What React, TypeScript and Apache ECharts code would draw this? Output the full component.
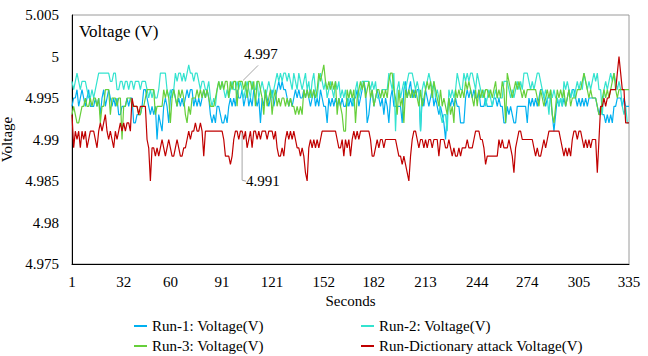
import React, { useEffect, useRef } from "react";
import * as echarts from "echarts";

// Values in millivolts (4994 = 4.994 V), one per second 1..335
const RUN1_MV = [
  4994,4995,4995,4996,4994,4995,4996,4995,4994,4995,
  4996,4994,4994,4994,4995,4994,4995,4993,4995,4996,
  4994,4995,4996,4995,4994,4995,4994,4995,4993,4993,
  4994,4994,4994,4995,4994,4995,4995,4992,4992,4993,
  4993,4993,4994,4996,4996,4995,4994,4993,4994,4993,
  4994,4990,4993,4992,4991,4994,4995,4994,4992,4995,
  4996,4996,4995,4994,4995,4994,4995,4994,4995,4996,
  4995,4996,4996,4994,4995,4994,4995,4994,4995,4996,
  4995,4996,4995,4993,4992,4993,4992,4994,4994,4993,
  4992,4992,4993,4992,4994,4995,4994,4995,4994,4996,
  4995,4995,4996,4994,4995,4996,4994,4995,4994,4996,
  4995,4994,4995,4992,4995,4994,4996,4995,4994,4995,
  4996,4994,4995,4996,4997,4996,4997,4996,4996,4995,
  4994,4995,4994,4995,4996,4995,4996,4995,4995,4996,
  4995,4996,4995,4994,4995,4996,4994,4995,4994,4996,
  4995,4994,4994,4992,4995,4994,4995,4994,4995,4994,
  4995,4994,4995,4994,4994,4995,4994,4995,4994,4995,
  4995,4996,4994,4995,4996,4997,4996,4992,4993,4995,
  4996,4994,4995,4996,4995,4994,4995,4993,4995,4994,
  4992,4995,4996,4994,4994,4994,4994,4994,4992,4996,
  4997,4995,4996,4997,4995,4996,4995,4996,4996,4991,
  4995,4994,4996,4995,4994,4995,4996,4994,4995,4994,
  4993,4994,4993,4992,4990,4993,4995,4994,4995,4994,
  4995,4994,4994,4992,4992,4992,4995,4996,4995,4996,
  4995,4996,4995,4995,4996,4994,4994,4994,4995,4994,
  4994,4994,4994,4995,4995,4994,4995,4994,4994,4992,
  4992,4994,4993,4994,4993,4992,4992,4994,4994,4994,
  4994,4994,4994,4992,4995,4994,4995,4994,4995,4994,
  4995,4996,4996,4995,4994,4995,4995,4995,4993,4991,
  4993,4995,4994,4995,4994,4995,4994,4995,4996,4995,
  4996,4996,4995,4994,4995,4994,4995,4994,4995,4994,
  4995,4995,4995,4995,4995,4994,4993,4994,4993,4993,
  4992,4993,4992,4993,4992,4994,4994,4995,4995,4995,
  4994,4995,4994,4994,4994,
];

const RUN2_MV = [
  4997,4996,4997,4998,4997,4996,4997,4997,4997,4996,
  4995,4995,4996,4995,4996,4997,4998,4998,4998,4998,
  4998,4998,4998,4997,4997,4998,4998,4996,4996,4997,
  4997,4996,4997,4997,4996,4997,4997,4996,4997,4997,
  4997,4996,4997,4997,4997,4996,4995,4996,4995,4996,
  4995,4995,4996,4998,4998,4998,4998,4996,4995,4996,
  4995,4996,4998,4997,4998,4998,4997,4998,4997,4998,
  4999,4998,4998,4997,4998,4998,4997,4996,4997,4997,
  4996,4996,4997,4995,4994,4995,4994,4996,4997,4996,
  4997,4996,4995,4996,4995,4996,4997,4996,4996,4997,
  4996,4997,4996,4995,4996,4997,4996,4995,4997,4996,
  4996,4997,4995,4996,4997,4996,4995,4996,4997,4996,
  4995,4996,4997,4998,4997,4998,4997,4998,4998,4997,
  4998,4997,4996,4998,4997,4996,4998,4997,4996,4997,
  4998,4996,4997,4995,4997,4998,4996,4995,4997,4998,
  4997,4996,4997,4995,4996,4997,4996,4995,4997,4996,
  4997,4995,4996,4995,4996,4994,4995,4996,4995,4994,
  4996,4997,4995,4996,4997,4997,4997,4997,4997,4996,
  4997,4996,4997,4995,4995,4995,4996,4996,4996,4996,
  4998,4997,4996,4998,4991,4996,4997,4995,4996,4997,
  4996,4997,4998,4998,4998,4997,4996,4997,4996,4991,
  4996,4997,4996,4997,4998,4997,4996,4997,4995,4996,
  4995,4993,4992,4993,4993,4991,4996,4995,4996,4995,
  4996,4998,4997,4996,4996,4998,4997,4998,4997,4998,
  4998,4997,4996,4998,4997,4996,4995,4996,4994,4995,
  4996,4995,4994,4995,4996,4995,4995,4995,4995,4997,
  4997,4997,4996,4995,4996,4995,4996,4997,4996,4997,
  4996,4998,4998,4998,4997,4996,4997,4996,4997,4998,
  4998,4997,4996,4995,4996,4995,4993,4996,4995,4996,
  4995,4995,4994,4995,4994,4997,4996,4997,4996,4995,
  4996,4995,4996,4997,4996,4997,4996,4998,4997,4996,
  4997,4996,4997,4998,4997,4998,4996,4996,4993,4996,
  4997,4996,4997,4998,4997,4998,4997,4996,4997,4996,
  4994,4993,4994,4992,4992,
];

const RUN3_MV = [
  4993,4994,4993,4992,4992,4993,4994,4994,4995,4994,
  4994,4995,4994,4995,4995,4994,4995,4992,4994,4994,
  4996,4996,4996,4993,4995,4995,4995,4994,4995,4995,
  4990,4994,4994,4995,4995,4995,4994,4994,4994,4994,
  4993,4993,4994,4994,4995,4996,4996,4996,4996,4996,
  4993,4994,4994,4994,4994,4996,4995,4996,4995,4992,
  4995,4996,4995,4994,4996,4995,4996,4995,4993,4992,
  4994,4993,4995,4995,4995,4996,4995,4996,4995,4996,
  4995,4996,4995,4994,4994,4994,4995,4996,4997,4996,
  4997,4996,4997,4997,4995,4997,4996,4997,4997,4994,
  4997,4997,4997,4996,4997,4995,4997,4997,4996,4997,
  4994,4997,4997,4996,4995,4993,4996,4994,4995,4996,
  4993,4995,4996,4994,4995,4994,4995,4995,4994,4995,
  4994,4995,4994,4994,4993,4994,4993,4994,4993,4996,
  4995,4996,4995,4996,4995,4996,4995,4996,4998,4997,
  4998,4999,4997,4996,4997,4996,4997,4996,4997,4993,
  4995,4994,4993,4991,4991,4996,4995,4996,4995,4996,
  4992,4995,4996,4997,4996,4997,4995,4996,4997,4995,
  4996,4994,4995,4996,4996,4995,4996,4995,4996,4995,
  4997,4998,4998,4996,4995,4993,4996,4994,4995,4992,
  4996,4995,4996,4995,4996,4995,4996,4995,4994,4996,
  4994,4995,4996,4997,4996,4997,4995,4997,4996,4995,
  4994,4996,4994,4995,4994,4993,4995,4993,4994,4992,
  4996,4995,4996,4995,4996,4995,4997,4996,4997,4996,
  4995,4994,4996,4994,4996,4995,4996,4995,4996,4996,
  4995,4996,4995,4996,4997,4995,4996,4995,4997,4996,
  4992,4998,4997,4996,4995,4996,4997,4996,4997,4996,
  4995,4996,4995,4996,4996,4996,4996,4996,4996,4995,
  4994,4996,4995,4994,4995,4996,4995,4996,4993,4992,
  4994,4996,4995,4996,4995,4996,4994,4995,4996,4994,
  4995,4995,4995,4996,4996,4996,4997,4998,4997,4996,
  4995,4996,4995,4995,4995,4994,4993,4993,4995,4996,
  4995,4996,4995,4996,4997,4998,4996,4995,4996,4996,
  4996,4996,4996,4996,4996,
];

const ATTACK_MV = [
  4993,4989,4991,4990,4991,4989,4991,4990,4991,4989,
  4990,4991,4991,4991,4990,4989,4991,4992,4991,4992,
  4993,4991,4990,4991,4990,4989,4991,4990,4991,4992,
  4991,4992,4991,4992,4992,4991,4995,4994,4994,4994,
  4993,4994,4994,4994,4994,4990,4989,4985,4989,4989,
  4988,4989,4988,4989,4990,4989,4988,4989,4990,4989,
  4988,4988,4989,4990,4989,4988,4988,4989,4989,4990,
  4991,4990,4991,4991,4992,4991,4991,4992,4991,4988,
  4991,4991,4991,4991,4991,4991,4991,4991,4991,4991,
  4991,4990,4988,4988,4988,4987,4988,4990,4991,4991,
  4990,4991,4991,4990,4991,4989,4990,4991,4989,4991,
  4991,4990,4991,4990,4991,4991,4991,4990,4991,4991,
  4991,4990,4991,4989,4988,4988,4989,4988,4990,4991,
  4990,4991,4990,4991,4990,4989,4989,4988,4989,4988,
  4986,4985,4989,4990,4989,4990,4989,4990,4989,4990,
  4991,4991,4991,4991,4991,4991,4991,4991,4991,4990,
  4989,4989,4990,4988,4990,4989,4990,4988,4990,4991,
  4990,4991,4990,4991,4991,4991,4991,4991,4991,4990,
  4988,4988,4989,4990,4989,4990,4990,4989,4990,4990,
  4990,4990,4990,4990,4990,4989,4988,4988,4987,4988,
  4987,4986,4985,4988,4990,4991,4991,4990,4989,4990,
  4990,4989,4990,4989,4990,4990,4989,4990,4990,4990,
  4988,4990,4990,4990,4989,4989,4990,4989,4988,4989,
  4988,4988,4989,4988,4989,4989,4989,4990,4989,4989,
  4989,4990,4991,4991,4991,4990,4990,4989,4987,4988,
  4988,4988,4988,4988,4988,4988,4990,4989,4990,4989,
  4989,4989,4990,4989,4988,4986,4989,4990,4991,4991,
  4990,4990,4990,4990,4990,4990,4990,4989,4988,4989,
  4988,4988,4989,4990,4989,4990,4991,4991,4991,4991,
  4991,4991,4991,4990,4989,4988,4989,4988,4989,4988,
  4990,4991,4991,4990,4991,4991,4990,4989,4990,4989,
  4990,4989,4990,4990,4990,4986,4990,4994,4994,4995,
  4994,4995,4995,4996,4996,4996,4996,4998,5000,4998,
  4996,4996,4992,4992,4992,
];

const X_TICK_LABELS = ["1", "32", "60", "91", "121", "152", "182", "213", "244", "274", "305", "335"];
const SECONDS = RUN1_MV.map((_, i) => String(i + 1));

const SERIES_NAMES = [
  "Run-1: Voltage(V)",
  "Run-2: Voltage(V)",
  "Run-3: Voltage(V)",
  "Run-Dictionary attack Voltage(V)",
];
const SERIES_COLORS = ["#00B0F0", "#33E3CF", "#66CF3A", "#C00000"];

// data-label annotations (index into the series)
const ANNOT_RUN3_INDEX = 102;
const ANNOT_ATTACK_INDEX = 102;

const FONT = "Liberation Serif";

// legend layout: [left, top] for each series' legend entry (two columns, two rows)
const LEGEND_POS = [
  [134, 318],
  [361, 318],
  [134, 338],
  [361, 338],
];

const toV = (arr: number[]) => arr.map((v) => v / 1000);

export default function App() {
  const ref = useRef<HTMLDivElement>(null);

  useEffect(() => {
    if (!ref.current) return;
    const chart = echarts.init(ref.current, undefined, { renderer: "svg" });
    const allData = [toV(RUN1_MV), toV(RUN2_MV), toV(RUN3_MV), toV(ATTACK_MV)];

    chart.setOption({
      animation: false,
      backgroundColor: "#fff",
      textStyle: { fontFamily: FONT, fontSize: 15, color: "#000" },
      title: {
        text: "Voltage (V)",
        left: 79,
        top: 23,
        padding: 0,
        textStyle: { fontFamily: FONT, fontSize: 17, fontWeight: "normal", color: "#000" },
      },
      grid: {
        left: 72,
        right: 19,
        top: 15,
        bottom: 92,
        show: true,
        borderColor: "#9a9a9a",
        borderWidth: 1,
        containLabel: false,
        outerBoundsMode: "none",
      },
      legend: SERIES_NAMES.map((name, k) => ({
        data: [name],
        left: LEGEND_POS[k][0],
        top: LEGEND_POS[k][1],
        padding: 0,
        itemWidth: 13,
        itemHeight: 2,
        icon: "rect",
        textStyle: { fontFamily: FONT, fontSize: 15, color: "#000", lineHeight: 16 },
      })),
      xAxis: {
        type: "category",
        data: SECONDS,
        boundaryGap: false,
        name: "Seconds",
        nameLocation: "middle",
        nameGap: 27,
        nameTextStyle: { fontFamily: FONT, fontSize: 15, color: "#000" },
        axisLine: { show: true, lineStyle: { color: "#000", width: 1 } },
        axisTick: { show: false },
        splitLine: { show: false },
        axisLabel: {
          interval: (_idx: number, value: string) => X_TICK_LABELS.includes(value),
          margin: 10,
          fontFamily: FONT,
          fontSize: 15,
          color: "#000",
        },
      },
      yAxis: {
        type: "value",
        min: 4.975,
        max: 5.005,
        interval: 0.005,
        name: "Voltage",
        nameLocation: "middle",
        nameGap: 42,
        nameRotate: 90,
        nameTextStyle: { fontFamily: FONT, fontSize: 15, color: "#000" },
        axisLine: { show: true, lineStyle: { color: "#000", width: 1 } },
        axisTick: { show: false },
        splitLine: { show: false },
        axisLabel: {
          margin: 13,
          fontFamily: FONT,
          fontSize: 15,
          color: "#000",
          formatter: (v: number) => String(parseFloat(v.toFixed(3))),
        },
      },
      series: SERIES_NAMES.map((name, k) => ({
        name,
        type: "line",
        data: allData[k],
        showSymbol: false,
        symbol: "none",
        lineStyle: { color: SERIES_COLORS[k], width: 1.2 },
        itemStyle: { color: SERIES_COLORS[k] },
        emphasis: { disabled: true },
      })),
    });

    const pg = chart.convertToPixel({ xAxisIndex: 0, yAxisIndex: 0 }, [
      ANNOT_RUN3_INDEX,
      allData[2][ANNOT_RUN3_INDEX],
    ]) as number[];
    const pr = chart.convertToPixel({ xAxisIndex: 0, yAxisIndex: 0 }, [
      ANNOT_ATTACK_INDEX,
      allData[3][ANNOT_ATTACK_INDEX],
    ]) as number[];

    chart.setOption({
      graphic: [
        {
          type: "polyline",
          shape: { points: [[pg[0] + 1, pg[1] - 1], [pg[0] + 16, pg[1] - 16]] },
          style: { stroke: "#a6a6a6", lineWidth: 1, fill: "none" },
          z: 10,
        },
        {
          type: "text",
          x: pg[0] + 2,
          y: pg[1] - 27,
          style: {
            text: String(allData[2][ANNOT_RUN3_INDEX]),
            font: "15px Liberation Serif",
            fill: "#000",
            verticalAlign: "middle",
            align: "left",
          },
          z: 10,
        },
        {
          type: "polyline",
          shape: {
            points: [
              [pr[0], pr[1] + 2],
              [pr[0], pr[1] + 49],
              [pr[0] + 4, pr[1] + 50],
            ],
          },
          style: { stroke: "#a6a6a6", lineWidth: 1, fill: "none" },
          z: 10,
        },
        {
          type: "text",
          x: pr[0] + 4,
          y: pr[1] + 50,
          style: {
            text: String(allData[3][ANNOT_ATTACK_INDEX]),
            font: "15px Liberation Serif",
            fill: "#000",
            verticalAlign: "middle",
            align: "left",
          },
          z: 10,
        },
      ],
    });

    return () => chart.dispose();
  }, []);

  return (
    <div
      ref={ref}
      style={{ position: "fixed", left: 0, top: 0, width: 648, height: 356 }}
    />
  );
}
